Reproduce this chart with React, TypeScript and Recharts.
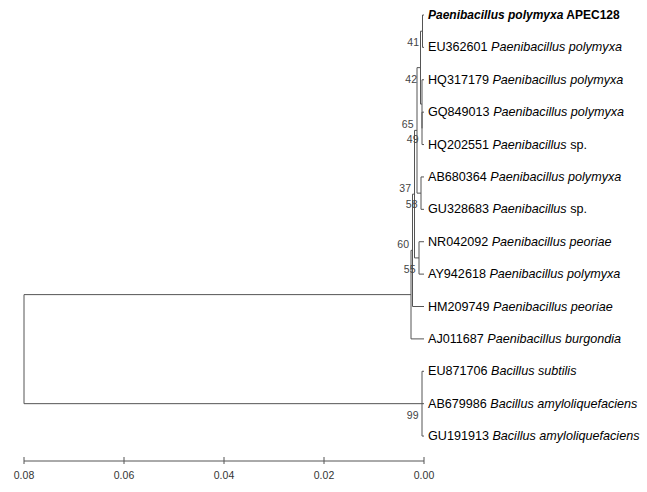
import React from "react";
import {
  ScatterChart,
  Scatter,
  XAxis,
  YAxis,
  ReferenceLine,
} from "recharts";

// Tips, top to bottom
const tipAccessions = [
  "APEC128",
  "EU362601",
  "HQ317179",
  "GQ849013",
  "HQ202551",
  "AB680364",
  "GU328683",
  "NR042092",
  "AY942618",
  "HM209749",
  "AJ011687",
  "EU871706",
  "AB679986",
  "GU191913",
];
const tipGenus = [
  "Paenibacillus",
  "Paenibacillus",
  "Paenibacillus",
  "Paenibacillus",
  "Paenibacillus",
  "Paenibacillus",
  "Paenibacillus",
  "Paenibacillus",
  "Paenibacillus",
  "Paenibacillus",
  "Paenibacillus",
  "Bacillus",
  "Bacillus",
  "Bacillus",
];
const tipSpecies = [
  "polymyxa",
  "polymyxa",
  "polymyxa",
  "polymyxa",
  "sp.",
  "polymyxa",
  "sp.",
  "peoriae",
  "polymyxa",
  "peoriae",
  "burgondia",
  "subtilis",
  "amyloliquefaciens",
  "amyloliquefaciens",
];
const queryTip = 0;

// Internal nodes (ids continue after the tips: 14, 15, ...)
const nodeChildren = [
  [0, 1], // 14
  [3, 4], // 15
  [2, 15], // 16
  [14, 16], // 17
  [5, 6], // 18
  [17, 18], // 19
  [7, 8], // 20
  [19, 20], // 21
  [21, 9], // 22
  [22, 10], // 23
  [11, 12, 13], // 24
  [23, 24], // 25 root
];
const nodeHeights = [
  0.0003, 0.0004, 0.0004, 0.0007, 0.0006, 0.0014, 0.001, 0.0019, 0.0023,
  0.0026, 0.0004, 0.08,
];
const nodeSupport = [41, 49, null, 42, 58, 65, 55, 37, 60, null, 99, null];

const scaleTicks = [0, 0.02, 0.04, 0.06, 0.08];

// layout: x = distance from tips, y = row
const nTips = tipAccessions.length;
const posX: number[] = tipAccessions.map(() => 0);
const posY: number[] = tipAccessions.map((_, i) => i);
nodeChildren.forEach((kids, k) => {
  posX[nTips + k] = nodeHeights[k];
  posY[nTips + k] = (posY[kids[0]] + posY[kids[kids.length - 1]]) / 2;
});

const segments: { x1: number; y1: number; x2: number; y2: number }[] = [];
nodeChildren.forEach((kids, k) => {
  const id = nTips + k;
  segments.push({
    x1: posX[id],
    y1: posY[kids[0]],
    x2: posX[id],
    y2: posY[kids[kids.length - 1]],
  });
  kids.forEach((c) => {
    segments.push({ x1: posX[id], y1: posY[c], x2: posX[c], y2: posY[c] });
  });
});

const tipData = tipAccessions.map((acc, i) => ({
  x: 0,
  y: i,
  acc,
  genus: tipGenus[i],
  species: tipSpecies[i],
  query: i === queryTip,
}));

// support values sit below-left of their node; a deeper node whose label
// would collide with one already placed moves above its branch instead
const supportData = nodeChildren
  .map((_, k) => ({
    x: posX[nTips + k],
    y: posY[nTips + k],
    value: nodeSupport[k],
    above: false,
  }))
  .filter((d) => d.value !== null)
  .sort((a, b) => a.x - b.x);
const placed: number[] = [];
supportData.forEach((d) => {
  const below = d.y + 0.34;
  if (placed.some((p) => Math.abs(p - below) < 0.4)) {
    d.above = true;
    placed.push(d.y - 0.19);
  } else {
    placed.push(below);
  }
});

const LINE = "#555";
const NARROW = "'Liberation Sans Narrow', 'Arial Narrow', 'Liberation Sans', Arial, sans-serif";

const TipLabel = (props: any) => {
  const { cx, cy, payload } = props;
  const family = "'Liberation Sans', Arial, sans-serif";
  if (payload.query) {
    return (
      <text
        x={cx + 4}
        y={cy}
        dominantBaseline="central"
        fill="#000"
        style={{ fontFamily: family, fontSize: 12 }}
      >
        <tspan fontWeight="bold" fontStyle="italic">
          {payload.genus + " " + payload.species}
        </tspan>
        <tspan fontWeight="bold">{" " + payload.acc}</tspan>
      </text>
    );
  }
  const spItalic = payload.species !== "sp.";
  return (
    <text
      x={cx + 4}
      y={cy}
      dominantBaseline="central"
      fill="#000"
      style={{ fontFamily: family, fontSize: 12.6 }}
    >
      <tspan>{payload.acc + " "}</tspan>
      <tspan fontStyle="italic">{payload.genus}</tspan>
      <tspan fontStyle={spItalic ? "italic" : "normal"}>
        {" " + payload.species}
      </tspan>
    </text>
  );
};

const SupportLabel = (props: any) => {
  const { cx, cy, payload } = props;
  return (
    <text
      x={cx - 3.5}
      y={cy + (payload.above ? -6 : 11)}
      textAnchor="end"
      dominantBaseline="central"
      fill="#444"
      style={{ fontFamily: NARROW, fontSize: 10.5 }}
    >
      {payload.value}
    </text>
  );
};

const AxisTick = (props: any) => {
  const { x, y, payload } = props;
  return (
    <g>
      <line x1={x} x2={x} y1={y - 4} y2={y + 3} stroke={LINE} />
      <text
        x={x}
        y={y + 14}
        textAnchor="middle"
        dominantBaseline="central"
        fill="#333"
        style={{ fontFamily: NARROW, fontSize: 10.5 }}
      >
        {Number(payload.value).toFixed(2)}
      </text>
    </g>
  );
};

export default function App() {
  return (
    <div style={{ position: "absolute", left: 0, top: 0, background: "#fff" }}>
      <ScatterChart
        width={647}
        height={492}
        margin={{ top: 15, right: 223, bottom: 0, left: 24 }}
      >
        <XAxis
          type="number"
          dataKey="x"
          domain={[0, 0.08]}
          ticks={scaleTicks}
          reversed
          height={31}
          tickSize={0}
          tickMargin={0}
          tickLine={false}
          axisLine={{ stroke: LINE }}
          tick={<AxisTick />}
          interval={0}
        />
        <YAxis type="number" dataKey="y" domain={[0, 13.77]} reversed hide />
        {segments.map((s, i) => (
          <ReferenceLine
            key={i}
            segment={[
              { x: s.x1, y: s.y1 },
              { x: s.x2, y: s.y2 },
            ]}
            stroke={LINE}
            strokeWidth={1}
            ifOverflow="visible"
          />
        ))}
        <Scatter data={tipData} shape={<TipLabel />} isAnimationActive={false} />
        <Scatter
          data={supportData}
          shape={<SupportLabel />}
          isAnimationActive={false}
        />
      </ScatterChart>
    </div>
  );
}
